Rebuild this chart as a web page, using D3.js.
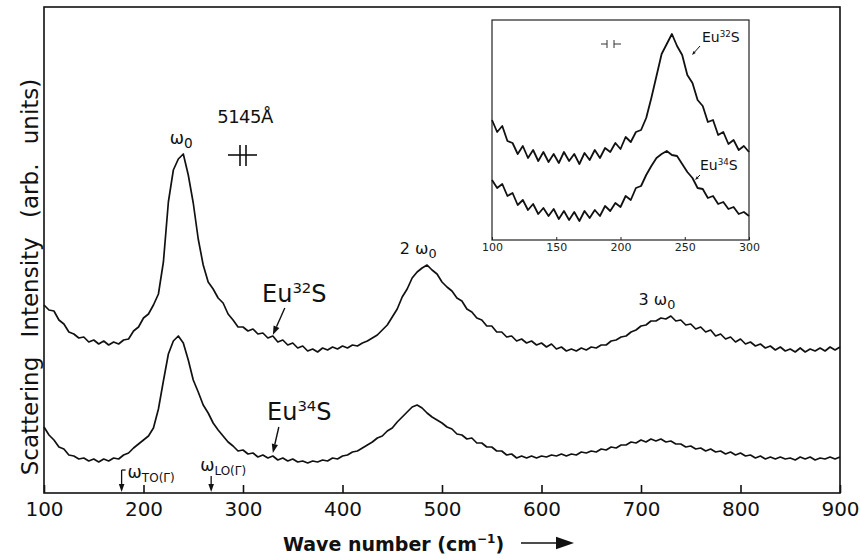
<!DOCTYPE html>
<html>
<head>
<meta charset="utf-8">
<script src="https://cdn.jsdelivr.net/npm/d3@7"></script>
<style>
body { margin: 0; background: #fff; }
svg { display: block; font-family: "DejaVu Sans", sans-serif; }
</style>
</head>
<body>
<svg width="860" height="559"></svg>
<script>
// Raman spectra of EuS, main panel: wave number grid (cm-1), step 5
const waveMain = d3.range(100, 905, 5);
// Eu32S (upper trace), arbitrary units
const eu32 = [
    188,183,182,173,169,161,159,155,156,151,
    153,149,152,148,151,149,153,154,162,166,
    175,179,188,199,231,291,323,334,339,318,
    290,254,228,211,204,195,190,179,173,166,
    166,162,164,159,160,155,157,151,153,148,
    150,145,147,142,144,141,145,143,146,144,
    147,145,148,147,150,152,155,158,163,168,
    176,184,196,204,215,221,225,228,223,219,
    211,206,202,195,192,184,181,175,173,167,
    167,161,161,156,157,152,154,150,152,148,
    150,146,149,144,146,142,144,142,145,143,
    146,145,148,148,152,153,156,157,161,163,
    167,168,172,172,175,174,177,172,173,168,
    169,164,166,161,163,157,159,154,156,151,
    154,149,151,147,149,145,147,143,146,142,
    144,141,145,141,144,142,145,142,146,143,
    146
];
// Eu34S (lower trace)
const eu34 = [
    66,58,53,46,44,38,37,34,35,32,
    34,31,34,32,35,34,38,40,45,49,
    53,57,65,84,112,139,152,157,150,133,
    113,101,88,80,70,63,57,51,47,42,
    43,39,40,36,38,35,37,33,35,32,
    34,31,32,30,32,31,33,32,35,34,
    37,38,41,42,45,48,51,55,57,62,
    65,71,76,81,86,88,85,80,76,73,
    70,66,64,59,58,54,55,50,50,46,
    46,42,42,38,39,35,37,35,37,35,
    37,36,38,37,39,37,39,38,41,40,
    42,41,44,43,46,45,48,48,51,50,
    53,51,54,52,54,51,52,49,49,46,
    47,44,45,42,44,41,42,39,41,38,
    40,37,38,35,37,34,36,34,36,34,
    35,33,36,34,36,33,35,34,36,34,
    36
];
const mainTicks = [100, 200, 300, 400, 500, 600, 700, 800, 900];

// inset: expanded first-order region, step 4
const waveInset = d3.range(100, 304, 4);
const inset32 = [
    118,106,112,97,95,84,92,80,88,77,
    86,76,84,75,86,77,84,74,85,78,
    88,80,90,86,95,89,101,96,106,108,
    120,140,162,184,194,204,192,183,163,155,
    138,132,116,118,103,106,94,98,88,92,
    86
];
const inset34 = [
    58,50,54,42,45,33,38,28,34,24,
    30,22,29,19,27,18,26,17,27,20,
    28,22,32,27,35,31,42,38,50,52,
    63,72,80,84,87,83,82,74,66,60,
    50,49,40,42,34,36,29,31,24,26,
    22
];
const insetTicks = [100, 150, 200, 250, 300];

// zone-centre phonons marked on the axis (cm-1)
const phonons = [
    {name: "TO", wave: 178},
    {name: "LO", wave: 268}
];

let svg = d3.select("svg");

let x = d3.scaleLinear().domain([100, 900]).range([44, 840]);
let y = d3.scaleLinear().domain([0, 486]).range([493, 7]);

// helper: line with filled arrow head at (x2,y2)
function arrow(g, x1, y1, x2, y2, head, width) {
    let a = Math.atan2(y2 - y1, x2 - x1);
    let bx = x2 - head * Math.cos(a), by = y2 - head * Math.sin(a);
    let w = head * 0.35;
    g.append("line")
        .attr("x1", x1).attr("y1", y1).attr("x2", bx).attr("y2", by)
        .attr("stroke", "#111").attr("stroke-width", width);
    g.append("polygon")
        .attr("points", [
            [x2, y2],
            [bx + w * Math.sin(a), by - w * Math.cos(a)],
            [bx - w * Math.sin(a), by + w * Math.cos(a)]
        ].map(p => p.join(",")).join(" "))
        .attr("fill", "#111");
}

// frame
svg.append("rect")
    .attr("x", 44).attr("y", 7).attr("width", 796).attr("height", 486)
    .attr("fill", "none").attr("stroke", "#111").attr("stroke-width", 1.6);

// x axis, ticks pointing inward
let xAxis = svg.append("g")
    .attr("transform", "translate(0,493)")
    .call(d3.axisBottom(x).tickValues(mainTicks).tickSize(-8).tickPadding(9));
xAxis.select(".domain").remove();
xAxis.selectAll("line").attr("stroke", "#111").attr("stroke-width", 1.6);
xAxis.selectAll("text")
    .attr("font-family", "DejaVu Sans, sans-serif")
    .attr("font-size", 20).attr("fill", "#111");

// spectra
let line = d3.line()
    .x((d, i) => x(waveMain[i]))
    .y(d => y(d));
svg.append("path").datum(eu32)
    .attr("d", line).attr("fill", "none")
    .attr("stroke", "#111").attr("stroke-width", 1.7).attr("stroke-linejoin", "round");
svg.append("path").datum(eu34)
    .attr("d", line).attr("fill", "none")
    .attr("stroke", "#111").attr("stroke-width", 1.7).attr("stroke-linejoin", "round");

// axis titles
svg.append("text")
    .attr("transform", "translate(38,277) rotate(-90)")
    .attr("text-anchor", "middle")
    .attr("font-size", 23)
    .attr("word-spacing", 12)
    .attr("fill", "#111")
    .text("Scattering Intensity (arb. units)");

let xt = svg.append("text")
    .attr("x", 283).attr("y", 551)
    .attr("font-size", 19).attr("font-weight", "bold").attr("fill", "#111");
xt.append("tspan").text("Wave number (cm");
xt.append("tspan").attr("dy", -8).attr("font-size", 12).text("\u22121");
xt.append("tspan").attr("dy", 8).text(")");
arrow(svg, 521, 543, 574, 543, 18, 1.5);

// peak labels
function omega(g, px, py, pre, size) {
    let t = g.append("text").attr("x", px).attr("y", py)
        .attr("font-size", size).attr("fill", "#111").attr("text-anchor", "middle");
    t.append("tspan").text(pre + "\u03c9");
    t.append("tspan").attr("dy", 4).attr("font-size", size * 0.8).text("0");
}
omega(svg, x(238), y(349), "", 17);
omega(svg, x(476), y(239), "2 ", 16);
omega(svg, x(716), y(188), "3 ", 16);

// laser line
svg.append("text")
    .attr("x", 245).attr("y", 123)
    .attr("text-anchor", "middle")
    .attr("font-size", 18).attr("letter-spacing", -0.5).attr("fill", "#111")
    .text("5145\u00c5");
let slit = svg.append("g").attr("stroke", "#111").attr("stroke-width", 1.6);
slit.append("line").attr("x1", 228).attr("x2", 257).attr("y1", 155).attr("y2", 155);
slit.append("line").attr("x1", 240).attr("x2", 240).attr("y1", 145).attr("y2", 166);
slit.append("line").attr("x1", 246).attr("x2", 246).attr("y1", 145).attr("y2", 166);

// sample labels
function sample(g, px, py, iso, size) {
    let t = g.append("text").attr("x", px).attr("y", py)
        .attr("font-size", size).attr("fill", "#111");
    t.append("tspan").text("Eu");
    t.append("tspan").attr("dy", -size * 0.38).attr("font-size", size * 0.62).text(iso);
    t.append("tspan").attr("dy", size * 0.38).text("S");
}
sample(svg, 262, 302, "32", 24);
arrow(svg, x(342), y(185), x(330), y(158), 9, 1.4);
sample(svg, 267, 420, "34", 24);
arrow(svg, x(336), y(66), x(330), y(40), 9, 1.4);

// TO / LO markers
phonons.forEach(function(p) {
    let px = x(p.wave);
    let g = svg.append("g");
    let top = p.name == "TO" ? 470 : 476;
    arrow(g, px, top, px, 492, 8, 1.3);
    let lx = p.name == "TO" ? px + 6 : px - 11;
    let ly = p.name == "TO" ? 478 : 471;
    if (p.name == "TO") {
        g.append("line").attr("x1", px).attr("x2", px + 4).attr("y1", top).attr("y2", top)
            .attr("stroke", "#111").attr("stroke-width", 1.3);
    }
    let t = g.append("text").attr("x", lx).attr("y", ly)
        .attr("font-size", 17).attr("fill", "#111");
    t.append("tspan").text("\u03c9");
    t.append("tspan").attr("dy", 4).attr("font-size", 12).text(p.name + "(\u0393)");
});

// ---- inset ----
let xi = d3.scaleLinear().domain([100, 300]).range([492, 749]);
let yi = d3.scaleLinear().domain([0, 218]).range([238, 20]);

svg.append("rect")
    .attr("x", 492).attr("y", 20).attr("width", 257).attr("height", 220)
    .attr("fill", "none").attr("stroke", "#222").attr("stroke-width", 1.2);

let iAxis = svg.append("g")
    .attr("transform", "translate(0,240)")
    .call(d3.axisBottom(xi).tickValues(insetTicks).tickSize(-3).tickPadding(3));
iAxis.select(".domain").remove();
iAxis.selectAll("line").attr("stroke", "#222");
iAxis.selectAll("text")
    .attr("font-family", "DejaVu Sans, sans-serif")
    .attr("font-size", 11).attr("fill", "#222");

let iline = d3.line()
    .x((d, i) => xi(waveInset[i]))
    .y(d => yi(d));
svg.append("path").datum(inset32)
    .attr("d", iline).attr("fill", "none")
    .attr("stroke", "#111").attr("stroke-width", 1.8).attr("stroke-linejoin", "round");
svg.append("path").datum(inset34)
    .attr("d", iline).attr("fill", "none")
    .attr("stroke", "#111").attr("stroke-width", 1.8).attr("stroke-linejoin", "round");

sample(svg, 702, 42, "32", 14);
arrow(svg, 700, 46, 692, 55, 4, 1);
sample(svg, 700, 170, "34", 14);
arrow(svg, 700, 175, 695, 180, 4, 1);

// small slit symbol: outer leads only
let islit = svg.append("g").attr("stroke", "#333").attr("stroke-width", 1);
islit.append("line").attr("x1", 601).attr("x2", 607).attr("y1", 44).attr("y2", 44);
islit.append("line").attr("x1", 614).attr("x2", 621).attr("y1", 44).attr("y2", 44);
islit.append("line").attr("x1", 607).attr("x2", 607).attr("y1", 40).attr("y2", 48);
islit.append("line").attr("x1", 614).attr("x2", 614).attr("y1", 40).attr("y2", 48);
</script>
</body>
</html>
